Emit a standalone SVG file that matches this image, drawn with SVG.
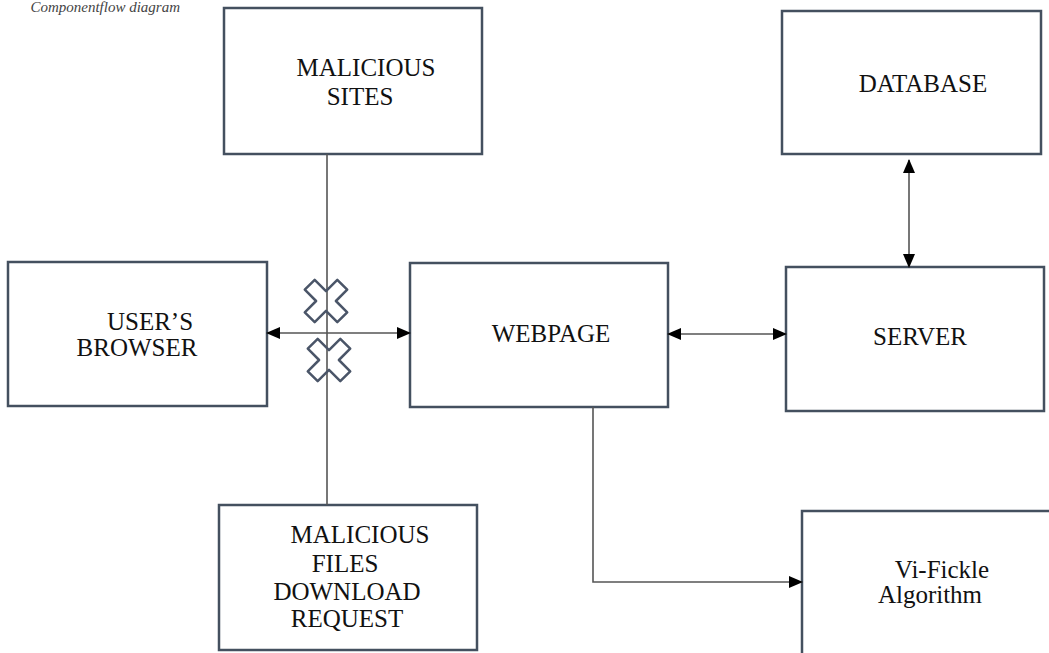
<svg xmlns="http://www.w3.org/2000/svg" width="1049" height="653" viewBox="0 0 1049 653">
<defs>
<style>
.box{fill:#fff;stroke:#44505f;stroke-width:2.5}
.lbl{font-family:"Liberation Serif","Times New Roman",serif;font-size:25px;fill:#111;text-anchor:middle}
.conn{stroke:#555;stroke-width:1.6;fill:none}
.x{fill:none;stroke:#4a5568;stroke-width:2.5;stroke-linejoin:round}
</style>
<marker id="ah" viewBox="0 0 14 12" refX="13" refY="6" markerWidth="14" markerHeight="12" markerUnits="userSpaceOnUse" orient="auto-start-reverse">
<path d="M0,0 L14,6 L0,12 Z" fill="#000"/>
</marker>
<polygon id="cross" points="-7,-23 7,-23 7,-7 23,-7 23,7 7,7 7,23 -7,23 -7,7 -23,7 -23,-7 -7,-7"/>
</defs>
<rect width="1049" height="653" fill="#fff"/>
<text x="180" y="12" text-anchor="end" font-family="Liberation Serif, serif" font-style="italic" font-size="15" fill="#444">Componentflow diagram</text>

<g id="malicious-sites">
<rect class="box" x="224" y="8" width="258" height="146"/>
<text class="lbl" x="366" y="76">MALICIOUS</text>
<text class="lbl" x="360" y="105">SITES</text>
</g>
<g id="database">
<rect class="box" x="782" y="11" width="259" height="143"/>
<text class="lbl" x="923" y="92">DATABASE</text>
</g>
<g id="users-browser">
<rect class="box" x="8" y="262" width="259" height="144"/>
<text class="lbl" x="150" y="330">USER’S</text>
<text class="lbl" x="137" y="356">BROWSER</text>
</g>
<g id="webpage">
<rect class="box" x="410" y="263" width="258" height="144"/>
<text class="lbl" x="551" y="342">WEBPAGE</text>
</g>
<g id="server">
<rect class="box" x="786" y="267" width="258" height="144"/>
<text class="lbl" x="920" y="345">SERVER</text>
</g>
<g id="malicious-files">
<rect class="box" x="219" y="505" width="258" height="145"/>
<text class="lbl" x="360" y="543">MALICIOUS</text>
<text class="lbl" x="345" y="572">FILES</text>
<text class="lbl" x="347" y="600">DOWNLOAD</text>
<text class="lbl" x="347" y="627">REQUEST</text>
</g>
<g id="vi-fickle">
<rect class="box" x="802" y="511" width="260" height="160"/>
<text class="lbl" x="942" y="578">Vi-Fickle</text>
<text class="lbl" x="930" y="603">Algorithm</text>
</g>

<g id="connectors">
<line class="conn" x1="327" y1="154" x2="327" y2="505"/>
<line class="conn" x1="267" y1="333" x2="410" y2="333" marker-start="url(#ah)" marker-end="url(#ah)"/>
<line class="conn" x1="668" y1="334" x2="786" y2="334" marker-start="url(#ah)" marker-end="url(#ah)"/>
<line class="conn" x1="909" y1="160" x2="909" y2="267" marker-start="url(#ah)" marker-end="url(#ah)"/>
<polyline class="conn" points="593,407 593,582 802,582" marker-end="url(#ah)"/>
<use href="#cross" class="x" transform="translate(326,301) rotate(45)"/>
<use href="#cross" class="x" transform="translate(329,360) rotate(45)"/>
</g>
</svg>
